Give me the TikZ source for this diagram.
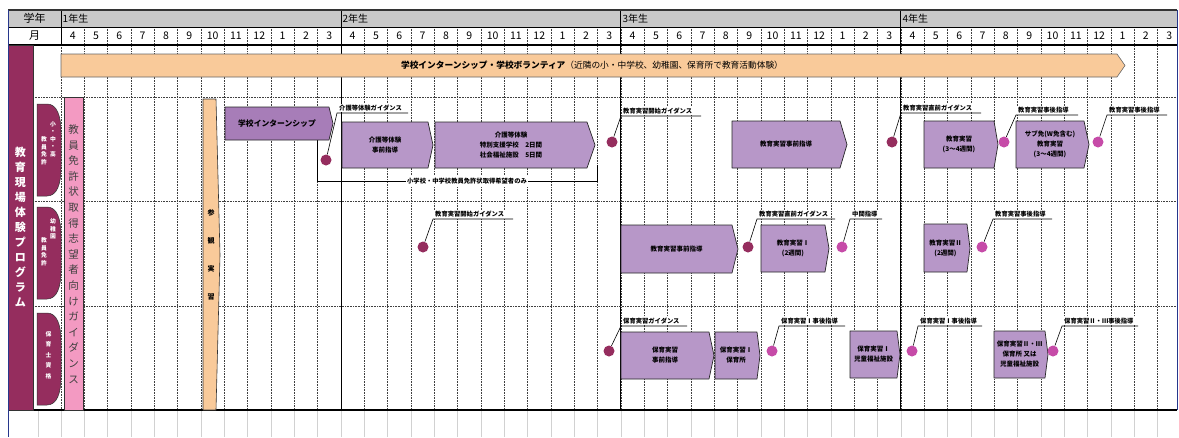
\documentclass[tikz,border=0pt]{standalone}
\usepackage{fontspec}
\setmainfont{Noto Sans CJK JP}
\usetikzlibrary{calc}

% Colori del programma
\definecolor{bordeaux}{HTML}{952D5E}
\definecolor{rosa}{HTML}{F39AC2}
\definecolor{pesca}{HTML}{F9CA9A}
\definecolor{lilla}{HTML}{B797C8}
\definecolor{lillascuro}{HTML}{A77DB8}
\definecolor{magentino}{HTML}{C64BA8}
\definecolor{grigiotesta}{HTML}{C8C8C8}
\definecolor{blucornice}{HTML}{27378C}

% Blocco a freccia: [stile]{nome}{x1}{y1}{x2}{y2}{punta}{testo}
\newcommand{\freccia}[8][blocco]{%
  \draw[#1] (#3,#4) -- (#5,#4) -- (#7,{(#4+#6)/2}) -- (#5,#6) -- (#3,#6) -- cycle;
  \node[testoblocco] (#2) at ({(#3+#5)/2},{(#4+#6)/2}) {#8};}

% Richiamo: {nome}{stile punto}{punto}{vertice}{lunghezza}{testo}
\newcommand{\guida}[6]{%
  \coordinate (#1a) at (#4);
  \coordinate (#1b) at ($(#1a)+(#5,0)$);
  \node[etich, anchor=south west] (#1t) at ($(#1a)+(1,-0.5)$) {#6};
  \node[#2] (#1p) at (#3) {};
  \draw[linea] (#1p) -- (#1a) -- (#1b);}

\begin{document}
\begin{tikzpicture}[x=1pt, y=-1pt, line join=round]
% Stili della tabella
\tikzset{
  griglia/.style={black!75, line width=0.6pt, densely dotted},
  anno/.style={black, line width=0.9pt},
  grigiochiaro/.style={black!18, line width=0.6pt},
  blocco/.style={fill=lilla, draw=black!85, line width=0.7pt},
  bloccoscuro/.style={fill=lillascuro, draw=black!85, line width=0.7pt},
  testoblocco/.style={align=center, inner sep=0pt, font=\bfseries\fontsize{6.5}{10}\selectfont},
  puntoA/.style={circle, fill=bordeaux, inner sep=0pt, minimum size=11pt},
  puntoB/.style={circle, fill=magentino, inner sep=0pt, minimum size=11pt},
  linea/.style={black, line width=0.6pt},
  etich/.style={fill=white, inner sep=1pt, font=\bfseries\fontsize{6.3}{7}\selectfont},
  verticale/.style={align=center, inner sep=0pt},
  mese/.style={inner sep=0pt, font=\fontsize{10.5}{12}\selectfont},
}

\useasboundingbox (0,0) rectangle (1179,437);
\fill[white] (0,0) rectangle (1179,437);

% Parametri della griglia dei mesi
\def\xo{61}     % inizio della prima colonna
\def\cw{23.33}  % larghezza di un mese

% --- INTESTAZIONE ---
\fill[grigiotesta] (8,10) rectangle (1177,27);
\node[font=\fontsize{11}{12}\selectfont, inner sep=0pt] (gakunen) at (34.5,18.5) {学年};
\node[font=\fontsize{11}{12}\selectfont, inner sep=0pt] (tsuki) at (34.5,36) {月};

% --- GRIGLIA ---
\foreach \k in {1,...,47} {
  \pgfmathsetmacro\xx{\xo+\k*\cw}
  \draw[griglia] (\xx,27) -- (\xx,410);
  \draw[grigiochiaro] (\xx,410) -- (\xx,437);
}
\draw[grigiochiaro] (38,410) -- (38,437);
\draw[grigiochiaro] (\xo,410) -- (\xo,437);
\draw[griglia] (\xo,45) -- (\xo,410);
\draw[anno] (\xo,10) -- (\xo,45);
\foreach \a/\lab in {0/1年生,1/2年生,2/3年生,3/4年生} {
  \pgfmathsetmacro\xx{\xo+12*\a*\cw}
  \ifnum\a>0 \draw[anno] (\xx,10) -- (\xx,410); \fi
  \node[anchor=west, inner sep=1.5pt, font=\fontsize{10}{12}\selectfont] (anno\a) at (\xx,18.5) {\lab};
}
\foreach \a in {0,...,3} {
  \foreach \m [count=\j from 0] in {4,5,6,7,8,9,10,11,12,1,2,3} {
    \pgfmathsetmacro\xx{\xo+(12*\a+\j+0.5)*\cw}
    \node[mese] (m\a-\j) at (\xx,36) {\m};
  }
}
\foreach \yy in {97,201,306} \draw[griglia] (33,\yy) -- (1177,\yy);
\draw[line width=1.4pt, black!80] (8,10) -- (1177,10);
\draw[line width=0.8pt] (8,27) -- (1177,27);
\draw[line width=1.3pt] (8,45) -- (1177,45);
\draw[line width=1.3pt] (8,410) -- (1177,410);

% --- COLONNA SINISTRA ---
\draw[fill=bordeaux, draw=black!80, line width=0.5pt] (8,45) rectangle (33,410);
\node[verticale, text=white, font=\bfseries\fontsize{11}{15}\selectfont] (programma) at (20.5,227)
  {教\\育\\現\\場\\体\\験\\プ\\ロ\\グ\\ラ\\ム};
\foreach \ya/\yb in {104/196, 207/299, 313/405}
  \draw[fill=bordeaux, draw=black!80, line width=0.5pt] (37,\ya) -- (47,\ya)
    .. controls (57,\ya) and (61,{\ya+12}) .. (61,{\ya+28}) -- (61,{\yb-28})
    .. controls (61,{\yb-12}) and (57,\yb) .. (47,\yb) -- (37,\yb) -- cycle;
\tikzset{sotto/.style={verticale, text=white, font=\bfseries\fontsize{5.8}{7.5}\selectfont}}
\node[sotto] (sc1) at (53,139) {小\\・\\中\\・\\高};
\node[sotto] (sc2) at (44,151) {教\\員\\免\\許};
\node[sotto] (yo1) at (53,229) {幼\\稚\\園};
\node[sotto] (yo2) at (44,252) {教\\員\\免\\許};
\node[sotto, font=\bfseries\fontsize{5.8}{10.5}\selectfont] (ho1) at (48.5,355) {保\\育\\士\\資\\格};

% Colonna rosa della guida
\draw[fill=rosa, draw=black!80, line width=0.6pt] (64,97) rectangle (83,410);
\node[verticale, text=black!75, font=\fontsize{10.5}{15.6}\selectfont] (guidarosa) at (73.5,254)
  {教\\員\\免\\許\\状\\取\\得\\志\\望\\者\\向\\け\\ガ\\イ\\ダ\\ン\\ス};

% Colonna del tirocinio di osservazione
\draw[fill=pesca, draw=black!80, line width=0.6pt] (203,99) -- (216,99) -- (220,255) -- (216,410) -- (203,410) -- cycle;
\node[verticale, font=\bfseries\fontsize{7}{28}\selectfont] (sankan) at (211,255) {参\\観\\実\\習};

% --- BARRA SUPERIORE ---
\draw[fill=pesca, draw=black!60, line width=0.6pt] (61,54) -- (1117,54) -- (1125,65.5) -- (1117,77) -- (61,77) -- cycle;
\node[inner sep=0pt, font=\fontsize{8.7}{10}\selectfont] (volontari) at (592,65.5)
  {{\bfseries 学校インターンシップ・学校ボランティア}（近隣の小・中学校、幼稚園、保育所で教育活動体験）};

% --- RIGA 1: scuola primaria e secondaria ---
\draw[linea, line width=0.9pt] (317,140) -- (317,181) -- (597,181) -- (597,165);
\node[fill=white, inner sep=1.5pt, font=\bfseries\fontsize{6.3}{7}\selectfont] (solo) at (467,181)
  {小学校・中学校教員免許状取得希望者のみ};
\freccia[bloccoscuro]{intern}{225}{107}{329}{140}{333}{\fontsize{7.8}{9}\selectfont 学校インターンシップ}
\freccia{kaigo1}{342}{122}{428}{168}{433}{介護等体験\\事前指導}
\freccia{kaigo2}{435}{122}{587}{168}{595}{介護等体験\\特別支援学校　2日間\\社会福祉施設　5日間}
\freccia{jizen1}{732}{121}{840}{168}{847}{教育実習事前指導}
\freccia{jisshu1}{924}{121}{994}{168}{998}{教育実習\\(3～4週間)}
\freccia{sub1}{1016}{121}{1084}{168}{1089}{サブ免(W免含む)\\教育実習\\(3～4週間)}
\guida{ga}{puntoA}{326,160}{337,113}{71}{介護等体験ガイダンス}
\guida{gb}{puntoA}{612,142}{621,116}{80}{教育実習開始ガイダンス}
\guida{gc}{puntoA}{892,142}{901,113}{80}{教育実習直前ガイダンス}
\guida{gd}{puntoB}{1004,142}{1016,115}{62}{教育実習事後指導}
\guida{ge}{puntoB}{1098,142}{1107,115}{60}{教育実習事後指導}

% --- RIGA 2: scuola dell'infanzia ---
\freccia{jizen2}{621}{225}{732}{273}{738}{教育実習事前指導}
\freccia{jisshu2a}{761}{225}{825}{272}{829}{教育実習Ⅰ\\(2週間)}
\freccia{jisshu2b}{924}{224}{967}{272}{970}{教育実習Ⅱ\\(2週間)}
\guida{gf}{puntoA}{423,247}{433,219}{80}{教育実習開始ガイダンス}
\guida{gg}{puntoA}{748,247}{757,219}{78}{教育実習直前ガイダンス}
\guida{gh}{puntoB}{842,247}{850,219}{32}{中間指導}
\guida{gi}{puntoB}{982,247}{993,219}{59}{教育実習事後指導}

% --- RIGA 3: educatore d'asilo nido ---
\freccia{hoiku1}{621}{332}{709}{379}{714}{保育実習\\事前指導}
\freccia{hoiku2}{715}{332}{757}{379}{760}{保育実習Ⅰ\\保育所}
\freccia{hoiku3}{850}{331}{897}{378}{900}{保育実習Ⅰ\\児童福祉施設}
\freccia{hoiku4}{994}{331}{1045}{378}{1048}{保育実習Ⅱ・Ⅲ\\保育所 又は\\児童福祉施設}
\guida{gj}{puntoA}{609,351}{621,326}{66}{保育実習ガイダンス}
\guida{gk}{puntoB}{772,351}{779,326}{66}{保育実習Ⅰ事後指導}
\guida{gl}{puntoB}{912,351}{918,326}{64}{保育実習Ⅰ事後指導}
\guida{gm}{puntoB}{1053,351}{1062,326}{76}{保育実習Ⅱ・Ⅲ事後指導}

% --- CORNICE ---
\draw[blucornice, line width=1pt] (8,10) -- (8,437);
\draw[blucornice, line width=1pt] (1177,10) -- (1177,410);
\end{tikzpicture}
\end{document}
